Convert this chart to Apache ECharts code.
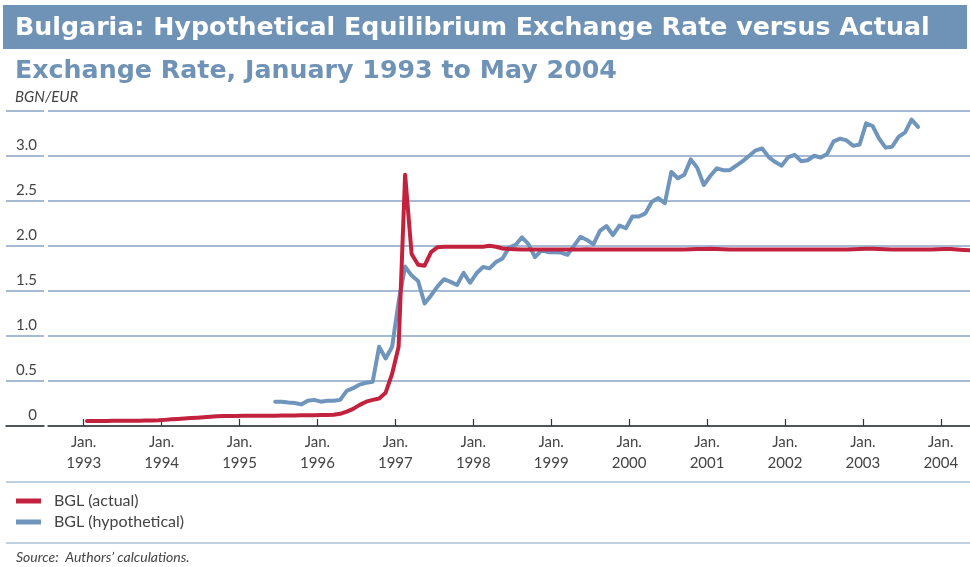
<!DOCTYPE html>
<html><head><meta charset="utf-8">
<script src="https://cdn.jsdelivr.net/npm/echarts@6/dist/echarts.min.js"></script>
<style>html,body{margin:0;padding:0;background:#fff}#c{width:970px;height:567px}</style>
</head><body><div id="c"></div>
<script>
const titleText = 'Bulgaria: Hypothetical Equilibrium Exchange Rate versus Actual';
const subtitleText = 'Exchange Rate, January 1993 to May 2004';
const unitLabel = 'BGN/EUR';
const sourceText = 'Source:  Authors\u2019 calculations.';
const seriesNames = ['BGL (actual)', 'BGL (hypothetical)'];
const yearLabels = ['1993','1994','1995','1996','1997','1998','1999','2000','2001','2002','2003','2004'];
const yTickLabels = ['0','0.5','1.0','1.5','2.0','2.5','3.0',''];

// months counted from January 1993 (0 = Jan 1993)
const actualStartMonth = 0;
const actual = [
  0.055,0.055,0.056,0.056,0.057,0.057,0.058,0.058,0.059,0.060,0.061,0.063,
  0.068,0.074,0.079,0.083,0.088,0.092,0.097,0.102,0.108,0.110,0.111,0.112,
  0.113,0.113,0.114,0.114,0.115,0.115,0.116,0.116,0.117,0.118,0.119,0.120,
  0.121,0.123,0.126,0.135,0.160,0.190,0.235,0.270,0.290,0.305,0.370,0.580,
  0.880,2.790,1.910,1.790,1.780,1.930,1.985,1.990,1.990,1.990,1.990,1.990,
  1.990,1.990,2.000,1.990,1.970,1.965,
  1.962,1.960,1.960,1.958,1.958,1.960,
  1.960,1.958,1.958,1.960,1.960,1.962,1.960,1.958,1.958,1.958,1.960,1.960,
  1.960,1.958,1.958,1.960,1.960,1.958,1.958,1.958,1.960,1.962,1.965,1.965,
  1.967,1.965,1.962,1.960,1.960,1.958,1.958,1.958,1.958,1.958,1.960,1.960,
  1.958,1.958,1.958,1.960,1.960,1.960,1.958,1.958,1.958,1.960,1.962,1.965,
  1.968,1.968,1.965,1.962,1.960,1.958,1.958,1.958,1.958,1.958,1.960,1.962,
  1.965,1.965,1.960,1.955,1.950
];
const hypoStartMonth = 29;
const hypothetical = [
  0.27,0.27,0.26,0.255,0.24,0.28,0.29,0.27,0.28,0.28,0.29,
  0.39,0.42,0.46,0.48,0.49,0.88,0.75,0.88,1.38,
  1.77,1.67,1.61,1.36,1.45,1.55,1.63,1.60,1.565,1.70,1.59,1.695,
  1.765,1.75,1.82,1.86,1.98,2.01,2.095,2.02,1.875,1.95,1.93,1.93,
  1.925,1.90,2.0,2.10,2.065,2.015,2.165,2.22,2.12,2.225,2.195,2.325,
  2.325,2.36,2.49,2.53,2.475,2.82,2.75,2.79,2.96,2.865,2.675,2.775,
  2.86,2.84,2.84,2.89,2.94,3.0,3.06,3.08,2.985,2.93,2.89,2.985,
  3.01,2.94,2.95,3.0,2.98,3.02,3.16,3.19,3.17,3.11,3.125,3.36,
  3.33,3.19,3.09,3.10,3.21,3.26,3.40,3.32
];

const toPoints = (start, arr) => arr.map((v, i) => [start + i + 0.5, v]); // mid-month
const janTicks = yearLabels.map((y, i) => i * 12);

const RED = '#c3223f', BLUE = '#6f95bc', GRID = '#88a5c4', AXIS = '#333333', TXT = '#444444';
const FONT = 'Lato, "Open Sans", sans-serif';
const HEAD = '"DejaVu Sans", sans-serif';

const chart = echarts.init(document.getElementById('c'), null, {renderer: 'canvas'});
chart.setOption({
  animation: false,
  backgroundColor: '#ffffff',
  title: [
    {text: titleText, left: 15, top: 16, padding: 0,
     textStyle: {color: '#ffffff', fontSize: 25.3, fontWeight: 'bold', fontFamily: HEAD}},
    {text: subtitleText, left: 15, top: 59, padding: 0,
     textStyle: {color: '#6f92b7', fontSize: 25.3, fontWeight: 'bold', fontFamily: HEAD}}
  ],
  graphic: [
    {type: 'rect', left: 3, top: 5, z: -1, shape: {width: 964, height: 44}, style: {fill: '#6f92b7'}},
    {type: 'text', left: 15, top: 90, style: {text: unitLabel, fill: TXT, font: 'italic 15px ' + FONT}},
    {type: 'line', shape: {x1: 6, y1: 482, x2: 970, y2: 482}, style: {stroke: '#a9bfd6', lineWidth: 1.5}},
    {type: 'line', shape: {x1: 6, y1: 543, x2: 970, y2: 543}, style: {stroke: '#a9bfd6', lineWidth: 1.5}},
    {type: 'text', left: 16, top: 550, style: {text: sourceText, fill: TXT, font: 'italic 14px ' + FONT}}
  ],
  legend: {
    data: seriesNames, orient: 'vertical', left: 16, top: 493, icon: 'rect',
    itemWidth: 25, itemHeight: 5, itemGap: 5, padding: 0,
    textStyle: {fontSize: 16, color: TXT, fontFamily: FONT, padding: [0, 0, 0, 8]}
  },
  grid: [
    {left: 48, right: 0, top: 110.7, bottom: 141, containLabel: false},
    {left: 6, width: 38, top: 110.7, bottom: 141, containLabel: false}
  ],
  xAxis: [
    {type: 'value', gridIndex: 0, min: -5.5, max: 136.5,
     axisLine: {show: true, lineStyle: {color: AXIS, width: 1.5}},
     axisTick: {show: true, inside: true, length: 7, customValues: janTicks, lineStyle: {color: AXIS, width: 1.2}},
     axisLabel: {show: true, customValues: janTicks, margin: 6, fontSize: 15, lineHeight: 21, color: TXT, fontFamily: FONT,
       formatter: v => 'Jan.\n' + yearLabels[Math.round(v / 12)]},
     splitLine: {show: false}},
    {type: 'value', gridIndex: 1, min: 0, max: 1,
     axisLine: {show: true, lineStyle: {color: AXIS, width: 1.5}},
     axisTick: {show: false}, axisLabel: {show: false}, splitLine: {show: false}}
  ],
  yAxis: [
    {type: 'value', gridIndex: 0, min: 0, max: 3.5, interval: 0.5,
     axisLine: {show: false}, axisTick: {show: false}, axisLabel: {show: false},
     splitLine: {show: true, lineStyle: {color: GRID, width: 1.5}}},
    {type: 'value', gridIndex: 1, min: 0, max: 3.5, interval: 0.5, position: 'right',
     axisLine: {show: false}, axisTick: {show: false},
     axisLabel: {show: true, inside: true, margin: 7, fontSize: 15, lineHeight: 15, color: TXT, fontFamily: FONT,
       verticalAlign: 'bottom', padding: [0, 0, 3, 0],
       formatter: v => yTickLabels[Math.round(v / 0.5)]},
     splitLine: {show: true, lineStyle: {color: GRID, width: 1.5}}}
  ],
  series: [
    {name: seriesNames[1], type: 'line', xAxisIndex: 0, yAxisIndex: 0, data: toPoints(hypoStartMonth, hypothetical),
     showSymbol: false, symbol: 'none', z: 3, color: BLUE,
     lineStyle: {color: BLUE, width: 4, cap: 'round', join: 'round'}},
    {name: seriesNames[0], type: 'line', xAxisIndex: 0, yAxisIndex: 0, data: toPoints(actualStartMonth, actual),
     showSymbol: false, symbol: 'none', z: 4, color: RED,
     lineStyle: {color: RED, width: 4, cap: 'round', join: 'round'}}
  ]
});
</script></body></html>
